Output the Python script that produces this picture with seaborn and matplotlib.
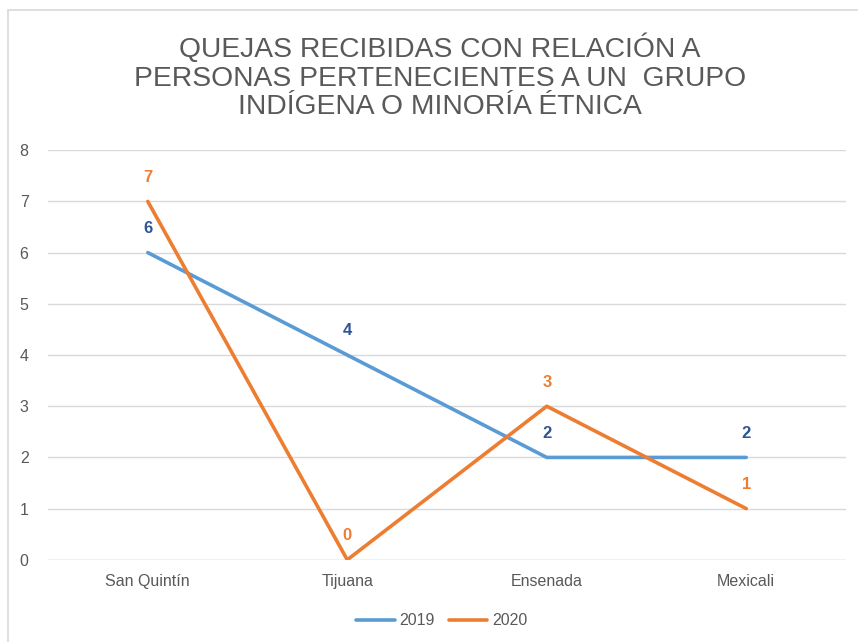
import matplotlib.pyplot as plt
import matplotlib.patches as mpatches
import pandas as pd
import seaborn as sns

# --------------------- data ---------------------
ciudades = ['San Quintín', 'Tijuana', 'Ensenada', 'Mexicali']
quejas_2019 = [6, 4, 2, 2]
quejas_2020 = [7, 0, 3, 1]
anios = ['2019', '2020']

df = pd.DataFrame({
    'ciudad': ciudades * 2,
    'x': list(range(len(ciudades))) * 2,
    'quejas': quejas_2019 + quejas_2020,
    'anio': [anios[0]] * len(ciudades) + [anios[1]] * len(ciudades),
})

colores = {'2019': '#5B9BD5', '2020': '#ED7D31'}
colores_etq = {'2019': '#2F5597', '2020': '#ED7D31'}
gris = '#595959'

sns.set_style('white')
plt.rcParams['font.family'] = ['Liberation Sans', 'DejaVu Sans']

fig = plt.figure(figsize=(8.58, 6.42), dpi=100)
ax = fig.add_axes([0.056, 0.128, 0.930, 0.638])

# borde del grafico
fig.patches.append(mpatches.Rectangle((0.009, -0.01), 1.2, 0.995, transform=fig.transFigure,
                                      fill=False, edgecolor='#D9D9D9', linewidth=1.2))

sns.lineplot(data=df, x='x', y='quejas', hue='anio', palette=colores, linewidth=2.6,
             ax=ax, legend=False)

# etiquetas de datos
for anio, vals in zip(anios, [quejas_2019, quejas_2020]):
    for i, v in enumerate(vals):
        ax.annotate(str(v), (i, v), xytext=(0, 12), textcoords='offset points',
                    ha='center', va='bottom', fontsize=12, fontweight='bold',
                    color=colores_etq[anio])

ax.set_xlim(-0.5, len(ciudades) - 0.5)
ax.set_ylim(0, 8)
ax.set_yticks(range(0, 9))
ax.set_xticks(range(len(ciudades)))
ax.set_xticklabels(ciudades)
ax.tick_params(axis='both', length=0, labelsize=11.5, labelcolor=gris, pad=10)
ax.tick_params(axis='y', pad=14)
ax.yaxis.grid(True, color='#D9D9D9', linewidth=1)
ax.set_axisbelow(True)
ax.set_xlabel('')
ax.set_ylabel('')
for s in ax.spines.values():
    s.set_visible(False)
ax.axhline(0, color='#D9D9D9', linewidth=1, zorder=0)

fig.text(0.513, 0.880, 'QUEJAS RECIBIDAS CON RELACIÓN A\nPERSONAS PERTENECIENTES A UN  GRUPO\nINDÍGENA O MINORÍA ÉTNICA',
         ha='center', va='center', fontsize=20.3, color=gris, linespacing=1.12)

handles = [plt.Line2D([], [], color=colores[a], linewidth=2.6) for a in anios]
fig.legend(handles, anios, loc='center', bbox_to_anchor=(0.515, 0.033), ncol=2, frameon=False,
           fontsize=11.5, labelcolor=gris, handlelength=2.4, handletextpad=0.3, columnspacing=0.9)

plt.savefig('out.png', dpi=100)
plt.close()
